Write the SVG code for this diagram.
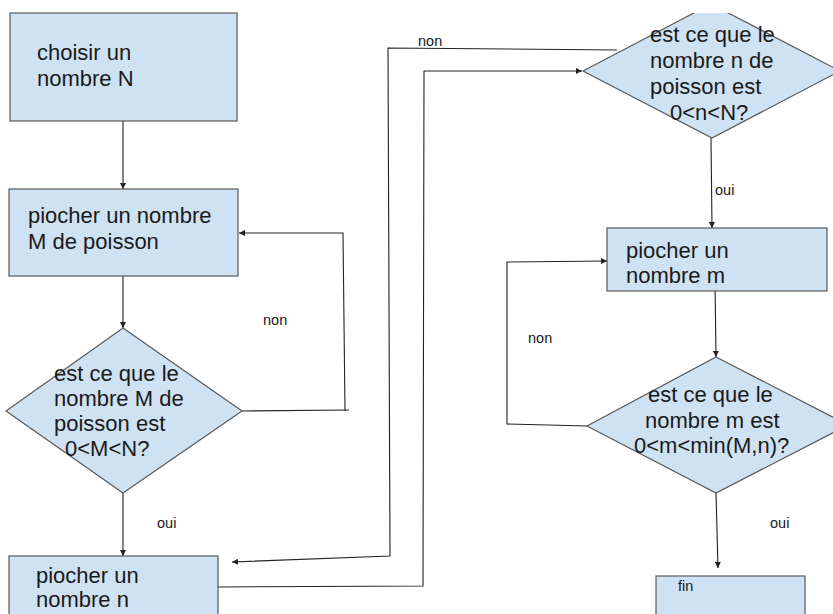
<svg xmlns="http://www.w3.org/2000/svg" width="833" height="614" viewBox="0 0 833 614">
<style>
.box{fill:#cfe2f3;stroke:#595959;stroke-width:1.2}
.t{font-family:"Liberation Sans",Arial,sans-serif;font-size:22px;fill:#1a1a1a}
.s{font-family:"Liberation Sans",Arial,sans-serif;font-size:14.5px;fill:#1a1a1a}
.c{fill:none;stroke:#222;stroke-width:1.1}
</style>
<defs>
<marker id="ah" viewBox="0 0 8 8" refX="8" refY="4" markerWidth="6" markerHeight="6" orient="auto" markerUnits="userSpaceOnUse">
<path d="M0,0 L8,4 L0,8 z" fill="#222"/>
</marker>
<clipPath id="topclip"><rect x="0" y="13" width="833" height="601"/></clipPath>
</defs>
<rect width="833" height="614" fill="#ffffff"/>

<g id="connectors">
<path class="c" d="M123,121 L123,189" marker-end="url(#ah)"/>
<path class="c" d="M123,273 L123,328" marker-end="url(#ah)"/>
<path class="c" d="M242,411 L349,410"/>
<path class="c" d="M345,411 L343,233 L239,233" marker-end="url(#ah)"/>
<path class="c" d="M123,493 L123,556" marker-end="url(#ah)"/>
<path class="c" d="M218,587 L423,586 L424,71 L582,71" marker-end="url(#ah)"/>
<path class="c" d="M617,50 L388,48 L390,556 L232,562" marker-end="url(#ah)"/>
<path class="c" d="M711,138 L712,228" marker-end="url(#ah)"/>
<path class="c" d="M715,280 L716,357" marker-end="url(#ah)"/>
<path class="c" d="M587,426 L507,424 L507,262 L607,261" marker-end="url(#ah)"/>
<path class="c" d="M716,493 L718,568" marker-end="url(#ah)"/>
</g>

<g id="node-choisir">
<rect class="box" x="10" y="13" width="227" height="108"/>
<text class="t" x="37" y="60">choisir un</text>
<text class="t" x="37" y="86">nombre N</text>
</g>

<g id="node-piocherM">
<rect class="box" x="9" y="189" width="229" height="87"/>
<text class="t" x="28" y="223">piocher un nombre</text>
<text class="t" x="28" y="249">M de poisson</text>
</g>

<g id="node-testM">
<polygon class="box" points="123,328 242,411 123,493 6,411"/>
<text class="t" x="54" y="381">est ce que le</text>
<text class="t" x="54" y="406">nombre M de</text>
<text class="t" x="54" y="431">poisson est</text>
<text class="t" x="65" y="456">0&lt;M&lt;N?</text>
</g>

<g id="node-piocherN">
<rect class="box" x="9" y="556" width="209" height="70"/>
<text class="t" x="36" y="583">piocher un</text>
<text class="t" x="36" y="607">nombre n</text>
</g>

<g id="node-testN">
<polygon class="box" clip-path="url(#topclip)" points="583,71 711,4 840,71 712,138"/>
<text class="t" x="650" y="42">est ce que le</text>
<text class="t" x="650" y="68">nombre n de</text>
<text class="t" x="650" y="94">poisson est</text>
<text class="t" x="670" y="120">0&lt;n&lt;N?</text>
</g>

<g id="node-piocherm">
<rect class="box" x="607" y="228" width="220" height="63"/>
<text class="t" x="626" y="258">piocher un</text>
<text class="t" x="626" y="283">nombre m</text>
</g>

<g id="node-testm">
<polygon class="box" points="716,357 848,425 716,493 587,426"/>
<text class="t" x="648" y="402">est ce que le</text>
<text class="t" x="645" y="428">nombre m est</text>
<text class="t" x="634" y="453">0&lt;m&lt;min(M,n)?</text>
</g>

<g id="node-fin">
<rect class="box" x="656" y="576" width="149" height="50"/>
<text class="s" x="678" y="591">fin</text>
</g>

<g id="labels">
<text class="s" x="263" y="325">non</text>
<text class="s" x="157" y="528">oui</text>
<text class="s" x="418" y="46">non</text>
<text class="s" x="715" y="195">oui</text>
<text class="s" x="528" y="343">non</text>
<text class="s" x="770" y="528">oui</text>
</g>
</svg>
